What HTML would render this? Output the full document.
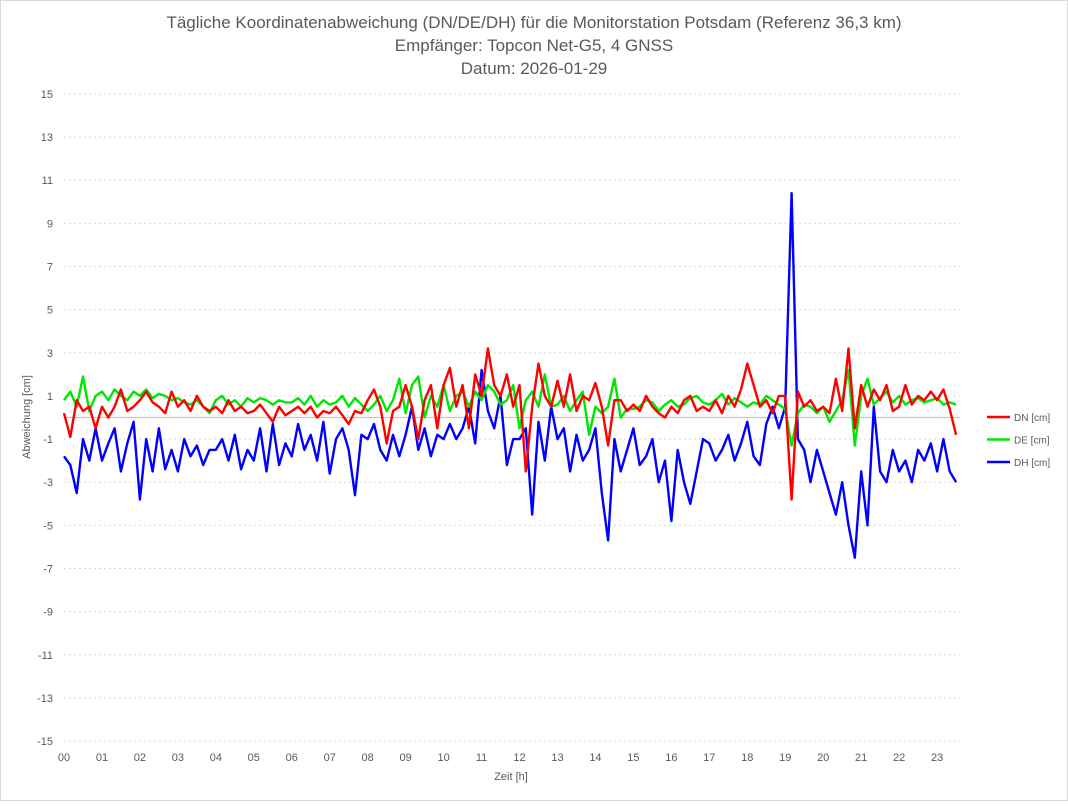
<!DOCTYPE html>
<html><head><meta charset="utf-8"><style>
body{margin:0;background:#fff;font-family:"Liberation Sans",sans-serif}
svg text{font-family:"Liberation Sans",sans-serif;fill:#595959}
</style></head><body>
<svg id="chart" width="1068" height="801" xmlns="http://www.w3.org/2000/svg">
<rect x="0.5" y="0.5" width="1067" height="800" fill="#fff" stroke="#d9d9d9"/>
<g font-size="17" text-anchor="middle">
<text x="534" y="28">Tägliche Koordinatenabweichung (DN/DE/DH) für die Monitorstation Potsdam (Referenz 36,3 km)</text>
<text x="534" y="51">Empfänger: Topcon Net-G5, 4 GNSS</text>
<text x="534" y="74">Datum: 2026-01-29</text>
</g>
<g id="grid"></g>
<g id="yticks"></g>
<g id="xticks"></g>
<text x="511" y="780" font-size="11" text-anchor="middle">Zeit [h]</text>
<text transform="translate(30,417) rotate(-90)" font-size="11" text-anchor="middle">Abweichung [cm]</text>
<g id="series"></g>
<g id="legend"></g>
</svg>
<script>
const seriesNames=["DN [cm]","DE [cm]","DH [cm]"];
const seriesColors=["#ff0000","#00e600","#0000ff"];
const yTicks=[15,13,11,9,7,5,3,1,-1,-3,-5,-7,-9,-11,-13,-15];
const xTickLabels=["00","01","02","03","04","05","06","07","08","09","10","11","12","13","14","15","16","17","18","19","20","21","22","23"];
const dn=[0.2,-0.9,0.8,0.3,0.5,-0.5, 0.5,0,0.5,1.3,0.3,0.5, 0.8,1.2,0.7,0.5,0.2,1.2, 0.5,0.8,0.3,1.0,0.5,0.3, 0.5,0.2,0.8,0.3,0.5,0.2, 0.3,0.6,0.2,-0.2,0.5,0.1, 0.3,0.5,0.2,0.5,0,0.3, 0.2,0.5,0.1,-0.3,0.3,0.2, 0.8,1.3,0.5,-1.2,0.3,0.5, 1.5,0.5,-1.0,0.8,1.5,-0.5, 1.5,2.3,0.5,1.5,-0.5,2.0, 1.0,3.2,1.5,1.0,2.0,0.5, 1.5,-2.5,0.5,2.5,1.0,0.5, 1.7,0.5,2.0,0.3,1.0,0.8, 1.6,0.5,-1.3,0.8,0.8,0.3, 0.6,0.3,1.0,0.5,0.2,0, 0.5,0.2,0.8,1.0,0.3,0.5, 0.3,0.8,0.2,1.0,0.5,1.3, 2.5,1.5,0.5,0.8,0.2,1.0, 1.0,-3.8,1.2,0.5,0.8,0.3, 0.5,0.2,1.8,0.3,3.2,-0.5, 1.5,0.5,1.3,0.8,1.5,0.3, 0.5,1.5,0.6,1.0,0.8,1.2, 0.8,1.3,0.4,-0.8];
const de=[0.8,1.2,0.5,1.9,0.3,1.0, 1.2,0.8,1.3,1.0,0.8,1.2, 1.0,1.3,0.9,1.1,1.0,0.8, 0.9,0.7,0.6,0.8,0.5,0.2, 0.8,1.0,0.6,0.8,0.5,0.9, 0.7,0.9,0.8,0.6,0.8,0.7, 0.7,0.9,0.6,1.0,0.5,0.8, 0.6,0.7,1.0,0.5,0.9,0.6, 0.3,0.6,1.0,0.3,0.8,1.8, 0.2,1.5,1.9,0.0,1.0,0.5, 1.5,0.3,1.0,1.2,0.5,1.2, 0.8,1.5,1.2,0.6,0.8,1.5, -0.5,0.8,1.2,0.5,2.0,0.5, 0.6,1.0,0.3,0.8,1.2,-0.8, 0.5,0.2,0.5,1.8,0.0,0.4, 0.4,0.5,0.8,0.7,0.3,0.6, 0.8,0.5,0.6,0.9,1.0,0.7, 0.6,0.8,1.1,0.6,0.9,0.7, 0.5,0.7,0.6,1.0,0.8,0.6, 0.4,-1.3,0.2,0.6,0.5,0.2, 0.5,-0.2,0.3,0.8,2.2,-1.3, 1.0,1.8,0.6,0.9,1.2,0.7, 1.0,0.6,0.8,0.9,0.7,0.8, 0.9,0.6,0.7,0.6];
const dh=[-1.8,-2.2,-3.5,-1.0,-2.0,-0.5, -2.0,-1.2,-0.5,-2.5,-1.2,-0.2, -3.8,-1.0,-2.5,-0.5,-2.4,-1.5, -2.5,-1.0,-1.8,-1.3,-2.2,-1.5, -1.5,-1.0,-2.0,-0.8,-2.4,-1.5, -2.0,-0.5,-2.5,-0.3,-2.2,-1.2, -1.8,-0.3,-1.5,-0.8,-2.0,-0.2, -2.6,-1.0,-0.5,-1.5,-3.6,-0.8, -1.0,-0.3,-1.5,-2.0,-0.8,-1.8, -0.8,0.5,-1.5,-0.5,-1.8,-0.8, -1.0,-0.3,-1.0,-0.5,0.5,-1.2, 2.2,0.3,-0.5,1.0,-2.2,-1.0, -1.0,-0.5,-4.5,-0.2,-2.0,0.5, -1.0,-0.5,-2.5,-0.8,-2.0,-1.5, -0.5,-3.5,-5.7,-1.0,-2.5,-1.5, -0.5,-2.2,-1.8,-1.0,-3.0,-2.0, -4.8,-1.5,-3.0,-4.0,-2.5,-1.0, -1.2,-2.0,-1.5,-0.8,-2.0,-1.2, -0.2,-1.8,-2.2,-0.3,0.5,-0.5, 0.5,10.4,-1.0,-1.5,-3.0,-1.5, -2.5,-3.5,-4.5,-3.0,-5.0,-6.5, -2.5,-5.0,0.5,-2.5,-3.0,-1.5, -2.5,-2.0,-3.0,-1.5,-2.0,-1.2, -2.5,-1.0,-2.5,-3.0];
const stepHours=1/6;
const X0=64,PXH=37.96,Y0=417.5,PXU=21.57,XR=960;
const xs=h=>X0+h*PXH, ys=v=>Y0-v*PXU;
const NS="http://www.w3.org/2000/svg";
function mk(tag,attrs,parent){const e=document.createElementNS(NS,tag);for(const k in attrs)e.setAttribute(k,attrs[k]);parent.appendChild(e);return e;}
const grid=document.getElementById('grid'),yt=document.getElementById('yticks'),xt=document.getElementById('xticks');
yTicks.forEach(v=>{
  const l=mk('line',{x1:X0,x2:XR,y1:ys(v),y2:ys(v),stroke:'#d9d9d9','stroke-width':1,'stroke-dasharray':'2,3'},grid);
  
  
  const t=mk('text',{x:53,y:ys(v)+4,'font-size':11,'text-anchor':'end'},yt);t.textContent=v;
  
  
});
const z=mk('line',{x1:X0,x2:XR,y1:ys(0),y2:ys(0),stroke:'#c8c8c8','stroke-width':1.3},grid);


xTickLabels.forEach((lab,i)=>{
  const t=mk('text',{x:xs(i),y:761,'font-size':11,'text-anchor':'middle'},xt);t.textContent=lab;
  
  
});
const sg=document.getElementById('series');
[[dh,2],[de,1],[dn,0]].forEach(([arr,ci])=>{
  const pts=arr.map((v,i)=>xs(i*stepHours).toFixed(1)+','+ys(v).toFixed(1)).join(' ');
  const p=mk('polyline',{points:pts,fill:'none',stroke:seriesColors[ci],'stroke-width':2.4,'stroke-linejoin':'round'},sg);
  
  
});
const lg=document.getElementById('legend');
seriesNames.forEach((n,i)=>{
  const y=417+i*22.5;
  const l=mk('line',{x1:987,x2:1010,y1:y,y2:y,stroke:seriesColors[i],'stroke-width':2.4},lg);
  
  
  const t=mk('text',{x:1014,y:y+4,'font-size':10},lg);t.textContent=n;
  
  
});
</script>
</body></html>
